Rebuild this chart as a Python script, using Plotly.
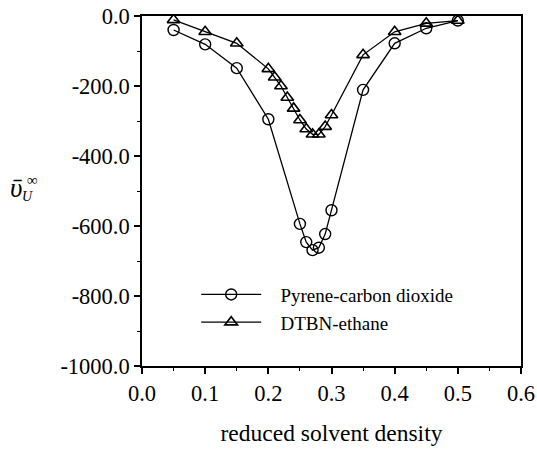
import plotly.graph_objects as go

# Pyrene-carbon dioxide
pyr_x = [0.05, 0.10, 0.15, 0.20, 0.25, 0.26, 0.27, 0.28, 0.29, 0.30, 0.35, 0.40, 0.45, 0.50]
pyr_y = [-40, -81, -149, -295, -594, -646, -669, -662, -623, -555, -211, -78, -35, -13]

# DTBN-ethane
dtbn_x = [0.05, 0.10, 0.15, 0.20, 0.21, 0.22, 0.23, 0.24, 0.25, 0.26, 0.27, 0.28, 0.29, 0.30,
          0.35, 0.40, 0.45, 0.50]
dtbn_y = [-11, -45, -78, -151, -175, -200, -233, -264, -297, -323, -338, -338, -316, -283,
          -111, -45, -21, -13]

x_ticks = [0.0, 0.1, 0.2, 0.3, 0.4, 0.5, 0.6]
x_ticklabels = ["0.0", "0.1", "0.2", "0.3", "0.4", "0.5", "0.6"]
y_ticks = [0, -200, -400, -600, -800, -1000]
y_ticklabels = ["0.0", "-200.0", "-400.0", "-600.0", "-800.0", "-1000.0"]

FONT = "Liberation Serif"
NB = "\u00a0"

fig = go.Figure()
fig.add_trace(go.Scatter(
    x=pyr_x, y=pyr_y, mode="lines+markers", name=NB * 3 + "Pyrene-carbon dioxide",
    line=dict(color="black", width=1.3),
    marker=dict(symbol="circle-open", size=11, color="black", line=dict(width=1.4)),
))
fig.add_trace(go.Scatter(
    x=dtbn_x, y=dtbn_y, mode="lines+markers", name=NB * 3 + "DTBN-ethane",
    line=dict(color="black", width=1.3),
    marker=dict(symbol="triangle-up-open", size=11, color="black", line=dict(width=1.6)),
))

axis_common = dict(
    showline=True, linecolor="black", linewidth=1.5, mirror=True,
    ticks="outside", ticklen=6, tickwidth=1.5, tickcolor="black",
    showgrid=False, zeroline=False, automargin=False,
    tickfont=dict(family=FONT, size=22.5, color="black"),
)

fig.update_xaxes(
    range=[0, 0.6], tickvals=x_ticks, ticktext=x_ticklabels,
    minor=dict(dtick=0.05, tick0=0, ticks="outside", ticklen=3, tickwidth=1.2, tickcolor="black"),
    title=dict(text="reduced solvent density", font=dict(family=FONT, size=23.5, color="black"),
               standoff=20),
    **axis_common,
)
fig.update_yaxes(
    range=[-1000, 0], tickvals=y_ticks, ticktext=y_ticklabels,
    minor=dict(dtick=100, tick0=0, ticks="outside", ticklen=3, tickwidth=1.2, tickcolor="black"),
    **axis_common,
)

# y-axis label: v-bar with subscript U and superscript infinity (stacked)
fig.add_annotation(xref="paper", yref="paper", x=-0.333, y=0.509, text="<i>ῡ</i>",
                   showarrow=False, xanchor="center", yanchor="middle",
                   font=dict(family=FONT, size=27, color="black"))
fig.add_annotation(xref="paper", yref="paper", x=-0.290, y=0.532, text="∞",
                   showarrow=False, xanchor="center", yanchor="middle",
                   font=dict(family=FONT, size=15, color="black"))
fig.add_annotation(xref="paper", yref="paper", x=-0.302, y=0.483, text="<i>U</i>",
                   showarrow=False, xanchor="center", yanchor="middle",
                   font=dict(family=FONT, size=14, color="black"))

fig.update_layout(
    width=537, height=450,
    margin=dict(l=142, r=16, t=16, b=84),
    paper_bgcolor="white", plot_bgcolor="white",
    showlegend=True,
    legend=dict(
        x=0.143, y=0.164, xanchor="left", yanchor="middle",
        bgcolor="rgba(0,0,0,0)", borderwidth=0,
        font=dict(family=FONT, size=19, color="black"),
        itemwidth=60, tracegroupgap=0, traceorder="normal",
    ),
)

fig.write_html("out.html")
